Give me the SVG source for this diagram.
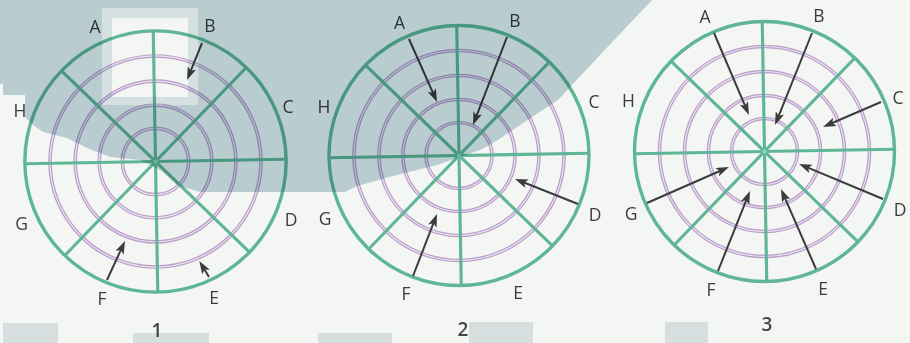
<svg xmlns="http://www.w3.org/2000/svg" xmlns:xlink="http://www.w3.org/1999/xlink" width="910" height="343" viewBox="0 0 910 343">
<defs>
<style>
.outer{fill:none;stroke:#5fb696;stroke-width:3.4}
.spoke{stroke:#5fb696;stroke-width:3.1}
.ring{fill:none;stroke:#b89dc7;stroke-width:3.6}
.ringc{fill:none;stroke:#ece2f0;stroke-width:1.2}
.lbl{font-family:"Open Sans","Noto Sans","Liberation Sans",sans-serif;font-size:17.5px;fill:#3b3b3b;text-anchor:middle}
.num{font-family:"Open Sans","Noto Sans","Liberation Sans",sans-serif;font-size:19px;font-weight:600;fill:#454545;text-anchor:middle}
.arr{stroke:#3c3c3c;stroke-width:2;fill:none;marker-end:url(#ah)}
.smudge{fill:#d6dee0}
</style>
<marker id="ah" markerUnits="userSpaceOnUse" markerWidth="13" markerHeight="9" refX="8" refY="4.5" orient="auto" viewBox="0 0 13 9">
<path d="M0,0 L13,4.5 L0,9 L3,4.5 Z" fill="#3c3c3c"/>
</marker>
<g id="wheel">
<circle class="ring" r="33"/><circle class="ring" r="56"/><circle class="ring" r="80"/><circle class="ring" r="105"/>
<circle class="ringc" r="33"/><circle class="ringc" r="56"/><circle class="ringc" r="80"/><circle class="ringc" r="105"/>
<g transform="rotate(-1)">
<line class="spoke" x1="-130" y1="0" x2="130" y2="0"/>
<line class="spoke" x1="0" y1="-130" x2="0" y2="130"/>
<line class="spoke" x1="-91.9" y1="-91.9" x2="91.9" y2="91.9"/>
<line class="spoke" x1="-91.9" y1="91.9" x2="91.9" y2="-91.9"/>
</g>
<circle class="outer" r="130"/>
<circle r="2.2" fill="#8fd0b6"/>
</g>
</defs>
<rect width="910" height="343" fill="#f4f6f4"/>
<g id="smudges">
<rect class="smudge" x="3" y="323" width="55" height="20"/>
<rect class="smudge" x="133" y="333" width="76" height="10"/>
<rect class="smudge" x="318" y="333" width="74" height="10"/>
<rect class="smudge" x="469" y="322" width="64" height="21"/>
<rect class="smudge" x="665" y="322" width="43" height="21"/>
</g>
<g id="diagram1">
<use xlink:href="#wheel" href="#wheel" transform="translate(155.5,161.5) scale(1.005)"/>
<text class="lbl" x="95" y="33.3">A</text>
<text class="lbl" x="210" y="32">B</text>
<text class="lbl" x="288" y="113">C</text>
<text class="lbl" x="291" y="226">D</text>
<text class="lbl" x="214" y="304">E</text>
<text class="lbl" x="102" y="305">F</text>
<text class="lbl" x="21.5" y="230">G</text>
<text class="lbl" x="20" y="117">H</text>
<text class="num" x="157" y="337">1</text>
</g>
<g id="diagram2">
<use xlink:href="#wheel" href="#wheel" transform="translate(459,155.5)"/>
<text class="lbl" x="399.5" y="29">A</text>
<text class="lbl" x="515" y="27">B</text>
<text class="lbl" x="594" y="108">C</text>
<text class="lbl" x="595" y="221">D</text>
<text class="lbl" x="518" y="299">E</text>
<text class="lbl" x="406" y="300">F</text>
<text class="lbl" x="325" y="225">G</text>
<text class="lbl" x="324" y="113">H</text>
<text class="num" x="463" y="336">2</text>
</g>
<g id="diagram3">
<use xlink:href="#wheel" href="#wheel" transform="translate(764.5,151.5)"/>
<text class="lbl" x="705" y="23">A</text>
<text class="lbl" x="819" y="22">B</text>
<text class="lbl" x="898" y="104">C</text>
<text class="lbl" x="900" y="216">D</text>
<text class="lbl" x="823" y="295">E</text>
<text class="lbl" x="711" y="296">F</text>
<text class="lbl" x="631" y="220">G</text>
<text class="lbl" x="628.5" y="107">H</text>
<text class="num" x="767" y="331">3</text>
</g>
<g id="connectors">
<line class="arr" x1="202" y1="43" x2="188.9" y2="75.4"/>
<line class="arr" x1="107" y1="280" x2="122.9" y2="245.5"/>
<line class="arr" x1="209" y1="277" x2="201.9" y2="265.3"/>
<line class="arr" x1="409" y1="39" x2="435" y2="97.4"/>
<line class="arr" x1="507" y1="37" x2="474.8" y2="120.3"/>
<line class="arr" x1="578" y1="204" x2="519.6" y2="180.8"/>
<line class="arr" x1="413" y1="276" x2="435.2" y2="218.7"/>
<line class="arr" x1="714" y1="33" x2="747" y2="110.4"/>
<line class="arr" x1="812" y1="33" x2="776.9" y2="120.4"/>
<line class="arr" x1="881" y1="102" x2="827.6" y2="125"/>
<line class="arr" x1="883" y1="199" x2="803.6" y2="165.9"/>
<line class="arr" x1="816" y1="269" x2="783" y2="193.6"/>
<line class="arr" x1="718" y1="271" x2="748.1" y2="195.6"/>
<line class="arr" x1="647" y1="203" x2="724.4" y2="169"/>
</g>
<g id="shading" style="mix-blend-mode:multiply">
<path fill="#c2d4d9" fill-rule="evenodd" d="M0,0 H652 L600,55 L558,100 L520,125 L498,140 L480,150 L437,165 L393,176 L357,186 L345,192 H200 L177,185 L160,170 L140,160 L110,157 L87,148 L67,138 L43,132 L33,125 L25,117 L25,95 L3,95 L3,84 L0,84 Z M102,8 H198 V105 H102 Z"/>
<path fill="#dfe9eb" fill-rule="evenodd" d="M102,8 H198 V105 H102 Z M112,18 V97 H188 V18 Z"/>
</g>
</svg>
